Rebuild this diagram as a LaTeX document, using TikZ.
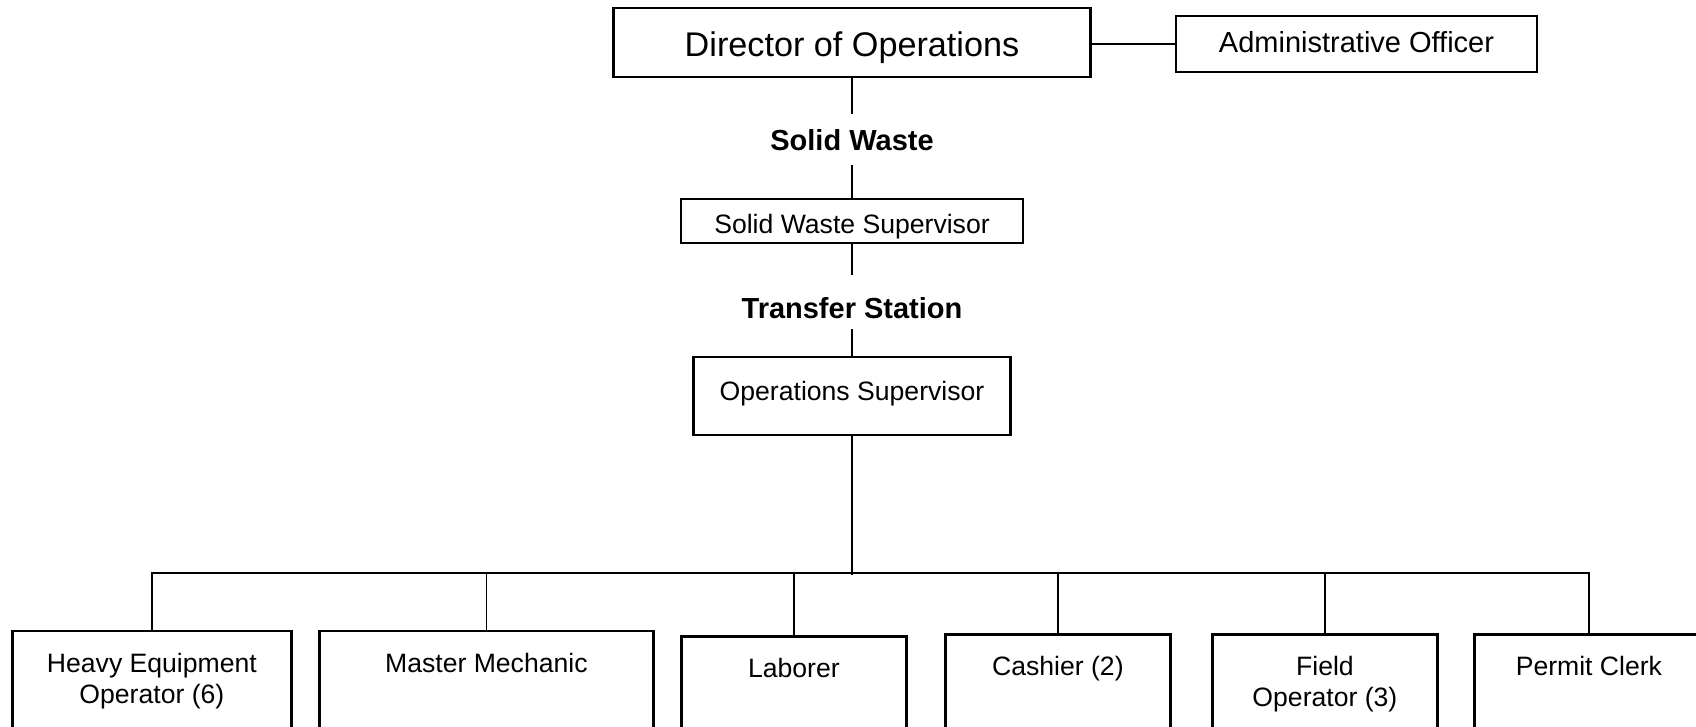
\documentclass[tikz,border=0pt]{standalone}
\usepackage{fontspec}
\setmainfont{Liberation Sans}
\begin{document}
\begin{tikzpicture}[x=0.5pt,y=-0.5pt,
  box/.style={draw, line width=1.4pt, rectangle, inner sep=0pt, text depth=0pt},
  post/.style={box, font=\fontsize{13.3}{15}\selectfont, text height=9.5pt},
  leaf/.style={draw, line width=1.4pt, rectangle, inner sep=0pt,
    anchor=north west, minimum height=60pt},
  caption/.style={font=\fontsize{13.3}{15.5}\selectfont, align=center,
    inner sep=0pt, anchor=north},
  unit/.style={font=\bfseries\fontsize{14.5}{17}\selectfont, inner sep=0pt,
    anchor=base},
  link/.style={line width=0.9pt}]
\useasboundingbox (0,0) rectangle (1696,727);
\clip (0,0) rectangle (1696,727);

% management chain
\node[box, minimum width=238.5pt, minimum height=34.5pt, text height=14.2pt,
  font=\fontsize{17.1}{20}\selectfont] (dir) at (852,42.5) {Director of Operations};
\node[box, minimum width=180.5pt, minimum height=28pt, text height=10.4pt, text depth=2pt,
  font=\fontsize{14.5}{17}\selectfont] (adm) at (1356.5,44) {Administrative Officer};
\node[unit, text height=18.5pt, text depth=7pt] (swl) at (852,151) {Solid Waste};
\node[post, minimum width=171pt, minimum height=22pt, text height=12.7pt] (sws) at (852,221) {Solid Waste Supervisor};
\node[unit, text height=21.5pt, text depth=5.5pt] (tsl) at (852,318) {Transfer Station};
\node[post, minimum width=158.5pt, minimum height=39pt, text depth=5.5pt] (os) at (852,396) {Operations Supervisor};
\coordinate (bus) at (852,573);

% staff positions
\node[leaf, minimum width=139.5pt] (heo) at (11,629.5) {};
\node[leaf, minimum width=167pt] (mm) at (318,629.5) {};
\node[leaf, minimum width=112.5pt] (lab) at (680,635) {};
\node[leaf, minimum width=112.5pt] (cash) at (944,633) {};
\node[leaf, minimum width=112.5pt] (fop) at (1211,633) {};
\node[leaf, minimum width=114.5pt] (pc) at (1473,633) {};

\node[caption] (heot) at ([yshift=-11.5pt]heo.north) {Heavy Equipment\\Operator (6)};
\node[caption] (mmt) at ([yshift=-11.5pt]mm.north) {Master Mechanic};
\node[caption] (labt) at ([yshift=-11.5pt]lab.north) {Laborer};
\node[caption] (casht) at ([yshift=-11.5pt]cash.north) {Cashier (2)};
\node[caption] (fopt) at ([yshift=-11.5pt]fop.north) {Field\\Operator (3)};
\node[caption] (pct) at ([yshift=-11.5pt]pc.north) {Permit Clerk};

% connectors
\draw[link] (adm.west) -- (adm.west -| dir.east);
\draw[link] (dir.south) -- (swl.north);
\draw[link] (swl.south) -- (sws.north);
\draw[link] (sws.south) -- (tsl.north);
\draw[link] (tsl.south) -- (os.north);
\draw[link] (os.south) -- ([yshift=-1pt]bus);
\draw[link] (heo.north) -- (heo.north |- bus) -- (pc.north |- bus) -- (pc.north);
\foreach \n in {mm,lab,cash,fop}
  \draw[link] (\n.north) -- (\n.north |- bus);
\end{tikzpicture}
\end{document}
